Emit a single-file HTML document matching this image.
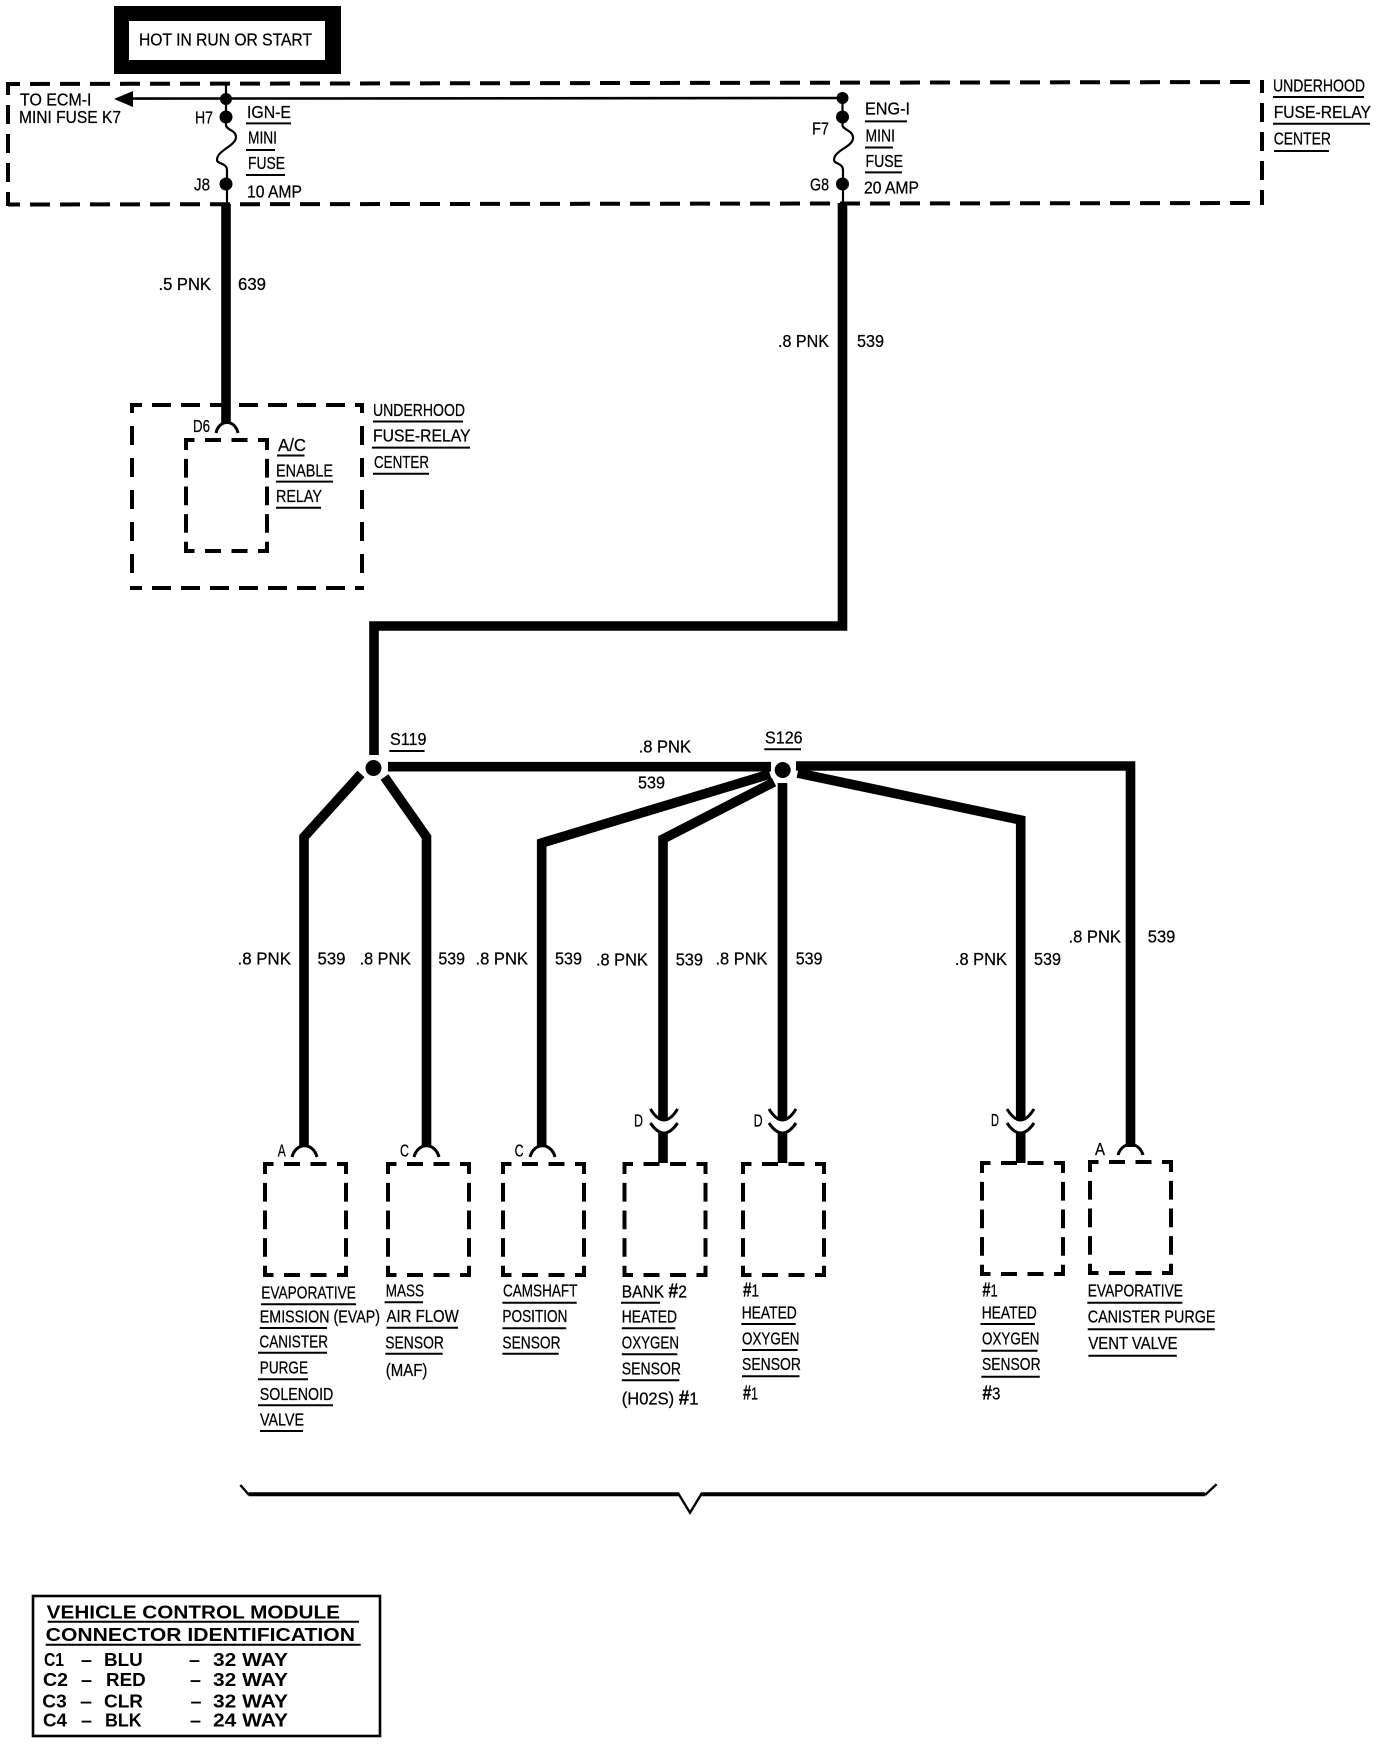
<!DOCTYPE html>
<html lang="en">
<head>
<meta charset="utf-8">
<title>Wiring diagram</title>
<style>
html,body{margin:0;padding:0;background:#fff}
svg{display:block}
text{font-family:"Liberation Sans",sans-serif;font-size:17.5px;fill:#000;stroke:#000;stroke-width:.25}
.b text{font-weight:bold;font-size:18.5px;stroke:none}
tspan.h{font-weight:bold;font-size:20px}
</style>
</head>
<body>
<svg xmlns="http://www.w3.org/2000/svg" width="1392" height="1744" viewBox="0 0 1392 1744">
<defs>
<g id="box" fill="none" stroke="#000" stroke-width="4">
<path d="M0 0H81M0 111H81" stroke-dasharray="16 10.5" stroke-dashoffset="7.5"/>
<path d="M0 -2V113M81 -2V113" stroke-dasharray="18.7 8.9" stroke-dashoffset="6.7"/>
</g>
</defs>
<rect width="1392" height="1744" fill="#fff"/>

<!-- hot box -->
<rect x="114" y="6" width="227" height="68" fill="#000"/>
<rect x="129" y="21" width="196" height="39" fill="#fff"/>
<text x="139" y="45.5" textLength="173" lengthAdjust="spacingAndGlyphs">HOT IN RUN OR START</text>

<!-- big dashed box -->
<g fill="none" stroke="#000" stroke-width="4">
<path d="M8 84L1262 82M8 204.5L1262 203" stroke-dasharray="20 10" stroke-dashoffset="8"/>
<path d="M8 82V206M1262 80V205" stroke-dasharray="19 10" stroke-dashoffset="6"/>
<!-- relay outer box -->
<path d="M132 405H362M132 588H362" stroke-dasharray="19 10" stroke-dashoffset="9"/>
<path d="M132 403V590M362 403V590" stroke-dasharray="19 13" stroke-dashoffset="9"/>
</g>
<use href="#box" transform="translate(186 440)"/>

<!-- thin feed -->
<path d="M131 98.6L844 98" fill="none" stroke="#000" stroke-width="2.6"/>
<path d="M114 99L133 91V107Z" fill="#000"/>
<path d="M226 84V125C226 130 236 130 236 137C236 146 217 150 217 160C217 164 227 163 227 170V204" fill="none" stroke="#000" stroke-width="2.2"/>
<path d="M842.5 98V125C842.5 130 853 130 853 138C853 147 834 150 834 160C834 164 843 163 843 170V204" fill="none" stroke="#000" stroke-width="2.2"/>
<g fill="#000">
<circle cx="226" cy="99" r="6"/><circle cx="226" cy="117" r="6.5"/><circle cx="226" cy="184" r="6.5"/>
<circle cx="842.5" cy="98" r="6"/><circle cx="842.5" cy="117" r="6.5"/><circle cx="842.5" cy="184" r="6.5"/>
<circle cx="373.5" cy="768" r="8"/><circle cx="782.7" cy="770" r="8"/>
</g>

<!-- thick wires -->
<g fill="none" stroke="#000" stroke-width="9.6" stroke-linejoin="miter">
<path d="M226 204V424"/>
<path d="M842.5 203V626H374V755"/>
<path d="M388 766.7H771"/>
<path d="M796 766H1130.5V1147"/>
<path d="M361 774L304 837V1147"/>
<path d="M384.5 777L426.5 837V1147"/>
<path d="M770 774L541.7 843V1147"/>
<path d="M774 782L663 839V1120"/>
<path d="M782.5 783V1120"/>
<path d="M797.6 773L1020.7 820V1120"/>
<path d="M663 1133V1163M782.5 1133V1163M1020.7 1133V1163"/>
</g>

<!-- connector arcs -->
<g fill="none" stroke="#000" stroke-width="3">
<path d="M216 433C219 419 235 419 238 433"/>
<path d="M292 1157C296 1142 313 1142 317 1157"/>
<path d="M414 1157C418 1142 435 1142 439 1157"/>
<path d="M530 1157C534 1142 551 1142 555 1157"/>
<path d="M1118 1155C1122 1141 1139 1141 1143 1155"/>
<path d="M650.4 1109Q664 1131 677.6 1109M650.4 1123Q664 1143 677.6 1123"/>
<path d="M769 1109Q782.5 1131 796 1109M769 1123Q782.5 1143 796 1123"/>
<path d="M1007 1109Q1020.5 1131 1034 1109M1007 1123Q1020.5 1143 1034 1123"/>
</g>

<!-- sensor boxes -->
<use href="#box" transform="translate(265 1164)"/>
<use href="#box" transform="translate(388 1164)"/>
<use href="#box" transform="translate(503 1164)"/>
<use href="#box" transform="translate(624.5 1164)"/>
<use href="#box" transform="translate(743 1164)"/>
<use href="#box" transform="translate(982 1163)"/>
<use href="#box" transform="translate(1090 1162)"/>

<!-- bracket -->
<path d="M248.7 1494.3H679M701.4 1494.3H1205" fill="none" stroke="#000" stroke-width="4"/>
<path d="M678 1493L690 1512.7L702 1493M240.3 1485L249 1495M1205 1495L1216.6 1484.3" fill="none" stroke="#000" stroke-width="2.4"/>

<!-- underlines -->
<path fill="none" stroke="#000" stroke-width="2" d="
M246 123.4H291M246 150H275M246 175H285
M373 421.5H463M372 447.6H470M373 473.7H429
M277 455.5H304.5M276 481.6H333M276 507.7H321
M865 121.4H907M865 147.5H893M865 172.4H902
M1273 97H1364M1273 123.8H1370M1274 151H1329
M389.4 751H424.6M764.3 749.3H801
M261 1304.3H356M259.8 1328H327M258 1352.7H327M258 1379.3H308M258 1405.3H333M260 1431H303
M384.6 1302.3H423M386.5 1327.7H458M385.3 1353.7H442.7
M502.4 1302.7H576.7M502.4 1328.3H566.3M502.4 1353.7H558.7
M621 1302.7H660M621.8 1328.3H675.4M621.8 1354.3H677.3M621.8 1380.3H679.3
M741.3 1324H795.7M742 1350H797.6M742 1376.3H799.5
M980.5 1324H1034.9M981.3 1350.7H1037.5M981.3 1376.7H1039.8
M1087.3 1302.7H1182.3M1087.7 1329.3H1214.7M1088.4 1355.7H1176.8"/>

<!-- labels top -->
<text x="20" y="105.6" textLength="71.5" lengthAdjust="spacingAndGlyphs">TO ECM-I</text>
<text x="19" y="123" textLength="102" lengthAdjust="spacingAndGlyphs">MINI FUSE K7</text>
<text x="195" y="123.4" textLength="18" lengthAdjust="spacingAndGlyphs">H7</text>
<text x="247" y="118" textLength="44" lengthAdjust="spacingAndGlyphs">IGN-E</text>
<text x="248" y="143.5" textLength="29" lengthAdjust="spacingAndGlyphs">MINI</text>
<text x="248" y="169" textLength="37" lengthAdjust="spacingAndGlyphs">FUSE</text>
<text x="194" y="190.6" textLength="16" lengthAdjust="spacingAndGlyphs">J8</text>
<text x="247" y="197.7" textLength="55" lengthAdjust="spacingAndGlyphs">10 AMP</text>
<text x="158.5" y="290" textLength="52.5" lengthAdjust="spacingAndGlyphs">.5 PNK</text>
<text x="238" y="290" textLength="28" lengthAdjust="spacingAndGlyphs">639</text>
<text x="193" y="432" textLength="17" lengthAdjust="spacingAndGlyphs">D6</text>
<text x="373" y="416" textLength="92" lengthAdjust="spacingAndGlyphs">UNDERHOOD</text>
<text x="373" y="441.7" textLength="97.5" lengthAdjust="spacingAndGlyphs">FUSE-RELAY</text>
<text x="374" y="468" textLength="55" lengthAdjust="spacingAndGlyphs">CENTER</text>
<text x="278" y="451" textLength="28" lengthAdjust="spacingAndGlyphs">A/C</text>
<text x="276" y="476.5" textLength="57" lengthAdjust="spacingAndGlyphs">ENABLE</text>
<text x="276" y="502" textLength="46" lengthAdjust="spacingAndGlyphs">RELAY</text>
<text x="865" y="114.7" textLength="45" lengthAdjust="spacingAndGlyphs">ENG-I</text>
<text x="812" y="134.4" textLength="17" lengthAdjust="spacingAndGlyphs">F7</text>
<text x="865.5" y="141.6" textLength="29.5" lengthAdjust="spacingAndGlyphs">MINI</text>
<text x="865.5" y="167" textLength="37.5" lengthAdjust="spacingAndGlyphs">FUSE</text>
<text x="810" y="190.6" textLength="19" lengthAdjust="spacingAndGlyphs">G8</text>
<text x="864" y="193.7" textLength="55" lengthAdjust="spacingAndGlyphs">20 AMP</text>
<text x="778" y="347" textLength="51" lengthAdjust="spacingAndGlyphs">.8 PNK</text>
<text x="857" y="347" textLength="27" lengthAdjust="spacingAndGlyphs">539</text>
<text x="1273" y="91.7" textLength="92" lengthAdjust="spacingAndGlyphs">UNDERHOOD</text>
<text x="1273.7" y="117.8" textLength="97.3" lengthAdjust="spacingAndGlyphs">FUSE-RELAY</text>
<text x="1273.7" y="144.7" textLength="57.3" lengthAdjust="spacingAndGlyphs">CENTER</text>

<!-- labels middle -->
<text x="390" y="745" textLength="36.5" lengthAdjust="spacingAndGlyphs">S119</text>
<text x="765" y="743.3" textLength="37.6" lengthAdjust="spacingAndGlyphs">S126</text>
<text x="638.6" y="752.7" textLength="52.4" lengthAdjust="spacingAndGlyphs">.8 PNK</text>
<text x="638" y="788.3" textLength="27" lengthAdjust="spacingAndGlyphs">539</text>
<text x="237.5" y="964.3" textLength="53.5" lengthAdjust="spacingAndGlyphs">.8 PNK</text>
<text x="317.5" y="964.3" textLength="28" lengthAdjust="spacingAndGlyphs">539</text>
<text x="359.6" y="964.3" textLength="51.4" lengthAdjust="spacingAndGlyphs">.8 PNK</text>
<text x="438.4" y="964.3" textLength="26.6" lengthAdjust="spacingAndGlyphs">539</text>
<text x="475.5" y="964.3" textLength="52.5" lengthAdjust="spacingAndGlyphs">.8 PNK</text>
<text x="555" y="964.3" textLength="27" lengthAdjust="spacingAndGlyphs">539</text>
<text x="596" y="965.7" textLength="51.8" lengthAdjust="spacingAndGlyphs">.8 PNK</text>
<text x="675.7" y="965.7" textLength="27.3" lengthAdjust="spacingAndGlyphs">539</text>
<text x="715.5" y="964.3" textLength="52" lengthAdjust="spacingAndGlyphs">.8 PNK</text>
<text x="795.7" y="964.3" textLength="26.8" lengthAdjust="spacingAndGlyphs">539</text>
<text x="954.9" y="965" textLength="52.1" lengthAdjust="spacingAndGlyphs">.8 PNK</text>
<text x="1034" y="965" textLength="27" lengthAdjust="spacingAndGlyphs">539</text>
<text x="1068.5" y="942.7" textLength="52.5" lengthAdjust="spacingAndGlyphs">.8 PNK</text>
<text x="1147.8" y="942.7" textLength="27.5" lengthAdjust="spacingAndGlyphs">539</text>

<!-- pin letters -->
<text x="277.7" y="1156.7" textLength="8" lengthAdjust="spacingAndGlyphs">A</text>
<text x="400" y="1156.7" textLength="9" lengthAdjust="spacingAndGlyphs">C</text>
<text x="514.6" y="1156.7" textLength="9" lengthAdjust="spacingAndGlyphs">C</text>
<text x="634" y="1126.7" textLength="9" lengthAdjust="spacingAndGlyphs">D</text>
<text x="753.6" y="1126.7" textLength="9" lengthAdjust="spacingAndGlyphs">D</text>
<text x="991" y="1126" textLength="8" lengthAdjust="spacingAndGlyphs">D</text>
<text x="1095" y="1155" textLength="10" lengthAdjust="spacingAndGlyphs">A</text>

<!-- labels under boxes -->
<text x="261.3" y="1298.3" textLength="94.6" lengthAdjust="spacingAndGlyphs">EVAPORATIVE</text>
<text x="259.8" y="1322.7" textLength="120.2" lengthAdjust="spacingAndGlyphs">EMISSION (EVAP)</text>
<text x="259.4" y="1347.3" textLength="68.6" lengthAdjust="spacingAndGlyphs">CANISTER</text>
<text x="259.8" y="1373.3" textLength="48.2" lengthAdjust="spacingAndGlyphs">PURGE</text>
<text x="259.8" y="1400" textLength="73.5" lengthAdjust="spacingAndGlyphs">SOLENOID</text>
<text x="260" y="1425.3" textLength="44" lengthAdjust="spacingAndGlyphs">VALVE</text>
<text x="385.7" y="1296.7" textLength="38.3" lengthAdjust="spacingAndGlyphs">MASS</text>
<text x="386.5" y="1322" textLength="72.3" lengthAdjust="spacingAndGlyphs">AIR FLOW</text>
<text x="385.3" y="1348.3" textLength="58.6" lengthAdjust="spacingAndGlyphs">SENSOR</text>
<text x="385.7" y="1376" textLength="41.7" lengthAdjust="spacingAndGlyphs">(MAF)</text>
<text x="503" y="1296.7" textLength="74.4" lengthAdjust="spacingAndGlyphs">CAMSHAFT</text>
<text x="502.4" y="1322" textLength="65.1" lengthAdjust="spacingAndGlyphs">POSITION</text>
<text x="502.4" y="1348.3" textLength="58.2" lengthAdjust="spacingAndGlyphs">SENSOR</text>
<text x="621.8" y="1297.3" textLength="65.1" lengthAdjust="spacingAndGlyphs">BANK <tspan class="h">#</tspan>2</text>
<text x="621.8" y="1322.7" textLength="55.2" lengthAdjust="spacingAndGlyphs">HEATED</text>
<text x="621.8" y="1348.7" textLength="57.2" lengthAdjust="spacingAndGlyphs">OXYGEN</text>
<text x="621.8" y="1374.7" textLength="59.2" lengthAdjust="spacingAndGlyphs">SENSOR</text>
<text x="621.8" y="1404.3" textLength="76.6" lengthAdjust="spacingAndGlyphs">(H02S) <tspan class="h">#</tspan>1</text>
<text x="743" y="1296.7" textLength="16" lengthAdjust="spacingAndGlyphs"><tspan class="h">#</tspan>1</text>
<text x="741.7" y="1318.3" textLength="55.1" lengthAdjust="spacingAndGlyphs">HEATED</text>
<text x="742" y="1344.3" textLength="57.5" lengthAdjust="spacingAndGlyphs">OXYGEN</text>
<text x="742" y="1370" textLength="59" lengthAdjust="spacingAndGlyphs">SENSOR</text>
<text x="743" y="1399.3" textLength="15" lengthAdjust="spacingAndGlyphs"><tspan class="h">#</tspan>1</text>
<text x="982.4" y="1296.7" textLength="15.3" lengthAdjust="spacingAndGlyphs"><tspan class="h">#</tspan>1</text>
<text x="981.7" y="1318.3" textLength="55.1" lengthAdjust="spacingAndGlyphs">HEATED</text>
<text x="982" y="1344.3" textLength="57.5" lengthAdjust="spacingAndGlyphs">OXYGEN</text>
<text x="982" y="1370" textLength="58.6" lengthAdjust="spacingAndGlyphs">SENSOR</text>
<text x="982.4" y="1399.3" textLength="18" lengthAdjust="spacingAndGlyphs"><tspan class="h">#</tspan>3</text>
<text x="1087.7" y="1296.7" textLength="95.3" lengthAdjust="spacingAndGlyphs">EVAPORATIVE</text>
<text x="1087.7" y="1322.7" textLength="127.8" lengthAdjust="spacingAndGlyphs">CANISTER PURGE</text>
<text x="1088.4" y="1349" textLength="89.2" lengthAdjust="spacingAndGlyphs">VENT VALVE</text>

<!-- table -->
<rect x="33" y="1596" width="347" height="140" fill="none" stroke="#000" stroke-width="2.6"/>
<path d="M47.7 1621.7H359M45.7 1644.7H360.7" fill="none" stroke="#000" stroke-width="2"/>
<g class="b">
<text x="46.7" y="1618.3" textLength="293.3" lengthAdjust="spacingAndGlyphs">VEHICLE CONTROL MODULE</text>
<text x="45.7" y="1641" textLength="309.3" lengthAdjust="spacingAndGlyphs">CONNECTOR IDENTIFICATION</text>
<text x="44" y="1666" textLength="20" lengthAdjust="spacingAndGlyphs">C1</text>
<text x="104" y="1666" textLength="38.7" lengthAdjust="spacingAndGlyphs">BLU</text>
<text x="213" y="1666" textLength="75" lengthAdjust="spacingAndGlyphs">32 WAY</text>
<text x="43" y="1686" textLength="25" lengthAdjust="spacingAndGlyphs">C2</text>
<text x="106" y="1686" textLength="39.7" lengthAdjust="spacingAndGlyphs">RED</text>
<text x="213" y="1686" textLength="75" lengthAdjust="spacingAndGlyphs">32 WAY</text>
<text x="42.3" y="1707.7" textLength="24.4" lengthAdjust="spacingAndGlyphs">C3</text>
<text x="104" y="1707.7" textLength="39" lengthAdjust="spacingAndGlyphs">CLR</text>
<text x="213" y="1707.7" textLength="75" lengthAdjust="spacingAndGlyphs">32 WAY</text>
<text x="43" y="1726.7" textLength="24" lengthAdjust="spacingAndGlyphs">C4</text>
<text x="105" y="1726.7" textLength="36.7" lengthAdjust="spacingAndGlyphs">BLK</text>
<text x="213" y="1726.7" textLength="75" lengthAdjust="spacingAndGlyphs">24 WAY</text>
<text x="81" y="1666" textLength="11" lengthAdjust="spacingAndGlyphs">–</text>
<text x="81" y="1686" textLength="11" lengthAdjust="spacingAndGlyphs">–</text>
<text x="80" y="1707.7" textLength="12" lengthAdjust="spacingAndGlyphs">–</text>
<text x="81" y="1726.7" textLength="11" lengthAdjust="spacingAndGlyphs">–</text>
<text x="189" y="1666" textLength="11" lengthAdjust="spacingAndGlyphs">–</text>
<text x="190" y="1686" textLength="11" lengthAdjust="spacingAndGlyphs">–</text>
<text x="190.5" y="1707.7" textLength="11" lengthAdjust="spacingAndGlyphs">–</text>
<text x="190" y="1726.7" textLength="11" lengthAdjust="spacingAndGlyphs">–</text>
</g>
</svg>
</body>
</html>
